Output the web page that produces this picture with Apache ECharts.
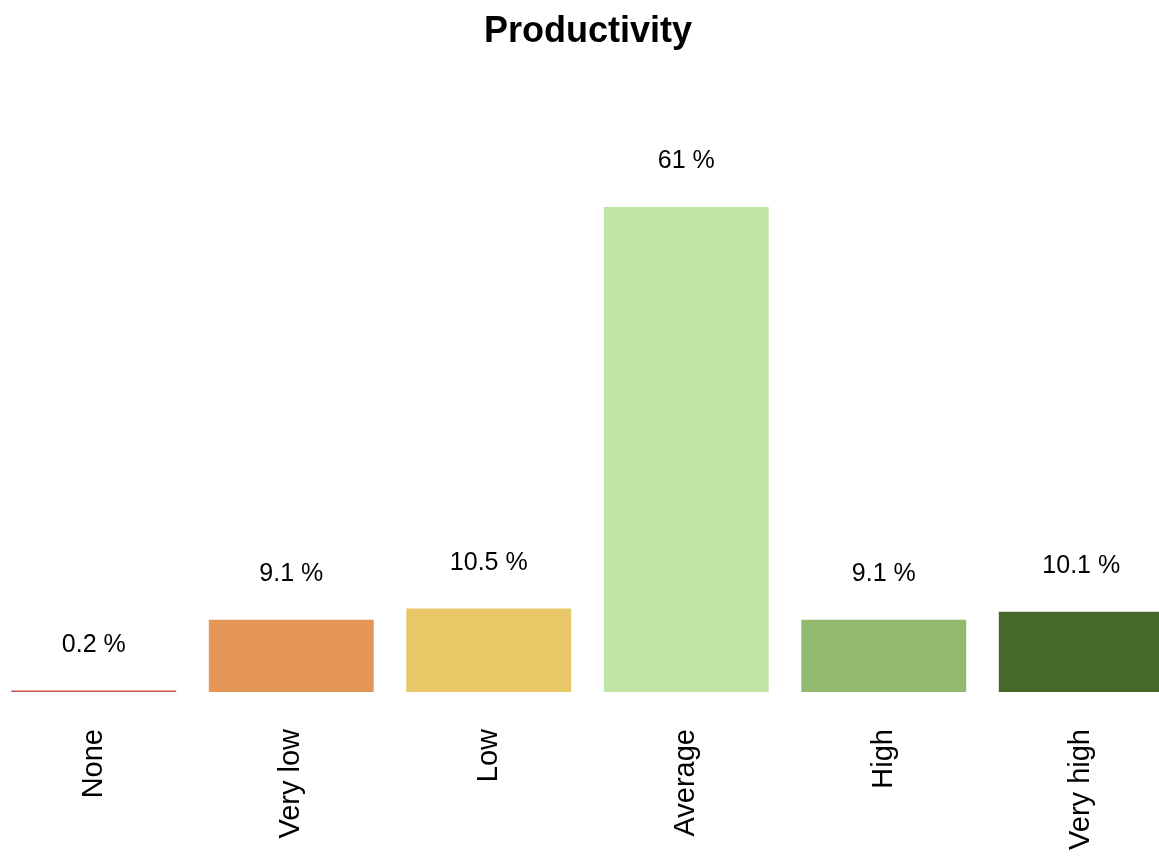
<!DOCTYPE html>
<html>
<head>
<meta charset="utf-8">
<style>
  html, body { margin: 0; padding: 0; background: #ffffff; overflow: hidden; width: 1159px; height: 859px; position: relative; }
  /* the plot runs slightly past both page edges, so the canvas is wider than the page */
  #chart { position: absolute; left: -5px; top: 0; width: 1185px; height: 859px; }
</style>
<script src="https://cdn.jsdelivr.net/npm/echarts@6/dist/echarts.min.js"></script>
</head>
<body>
<div id="chart"></div>
<script>
// Share of responses per productivity level (percent)
const categories = ['None', 'Very low', 'Low', 'Average', 'High', 'Very high'];
const shares = [0.2, 9.1, 10.5, 61, 9.1, 10.1];
const barColors = ['#c9524f', '#e49657', '#e8c866', '#c1e4a7', '#92ba6f', '#46692b'];

const chart = echarts.init(document.getElementById('chart'), null, { renderer: 'canvas' });
const fontFamily = '"Liberation Sans", Arial, Helvetica, sans-serif';

chart.setOption({
  animation: false,
  backgroundColor: '#ffffff',
  title: {
    text: 'Productivity',
    left: 588,
    textAlign: 'center',
    top: 9,
    textStyle: { fontFamily, fontSize: 36, fontWeight: 'bold', color: '#000000' }
  },
  grid: { left: 0, right: 0, top: 135.5, bottom: 167, containLabel: false },
  xAxis: {
    type: 'category',
    data: categories,
    axisLine: { show: false },
    axisTick: { show: false },
    axisLabel: {
      rotate: 90,
      margin: 37,
      interval: 0,
      fontFamily,
      fontSize: 29,
      color: '#000000'
    }
  },
  yAxis: {
    type: 'value',
    min: 0,
    max: 70,
    show: false,
    splitLine: { show: false }
  },
  series: [{
    type: 'bar',
    data: shares.map((v, i) => ({ value: v, itemStyle: { color: barColors[i] } })),
    barCategoryGap: '16.5%',
    label: {
      show: true,
      position: 'top',
      distance: 33,
      fontFamily,
      fontSize: 25,
      color: '#000000',
      formatter: p => p.value + ' %'
    }
  }]
});
</script>
</body>
</html>
